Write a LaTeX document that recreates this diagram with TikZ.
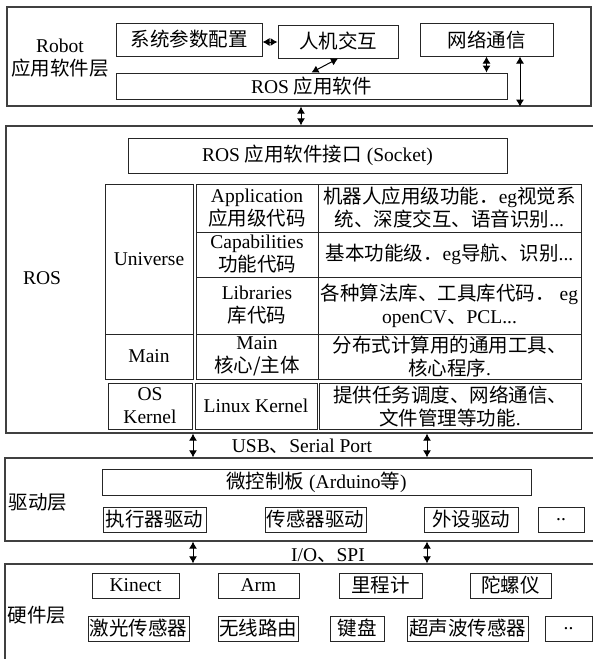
\documentclass[tikz,border=0pt]{standalone}
\usepackage{fontspec}
\setmainfont{Liberation Serif}
\newfontfamily\cjk{Noto Sans CJK SC}
\usetikzlibrary{arrows.meta}
\begin{document}
\begin{tikzpicture}[x=1pt,y=-1pt,
  every node/.style={font=\fontsize{19.5}{23}\selectfont, inner sep=0pt, text=black},
  frame/.style={draw=black!75, line width=1.3pt},
  box/.style={draw=black!85, line width=1pt, align=center},
  cell/.style={draw=black!85, line width=1pt, align=center},
  lbl/.style={align=center},
  dbl/.style={{Latex[length=7pt,width=8pt]}-{Latex[length=7pt,width=8pt]}, line width=1pt, draw=black},
]
\useasboundingbox (0,0) rectangle (593,659);
\clip (0,0) rectangle (593,659);
\fill[white] (0,0) rectangle (593,659);

% ---------- frames ----------
\node[frame, minimum width=584pt, minimum height=99pt] (topframe) at (299,56.5) {};
\node[frame, minimum width=614pt, minimum height=307pt] (rosframe) at (313,279.5) {};
\node[frame, minimum width=615pt, minimum height=83pt] (drvframe) at (312.5,499.5) {};
\node[frame, minimum width=615pt, minimum height=126pt] (hwframe) at (312.5,627) {};

% ---------- Robot application layer ----------
\node[lbl] (robotlbl) at (60,58.5) {Robot\\{\cjk 应用软件层}};
\node[box, minimum width=146pt, minimum height=33pt] (sys) at (189,39.5) {\cjk 系统参数配置};
\node[box, minimum width=120pt, minimum height=33pt] (hmi) at (338,41.5) {\cjk 人机交互};
\node[box, minimum width=133pt, minimum height=33pt] (net) at (486.5,39.5) {\cjk 网络通信};
\node[box, minimum width=391pt, minimum height=26pt] (rosapp) at (311.5,86) {ROS {\cjk 应用软件}};

\draw[dbl] (sys.east |- 0,42) -- (hmi.west |- 0,42);
\draw[dbl] (hmi.south) -- (rosapp.north);
\draw[dbl] (net.south) -- (net.south |- rosapp.north);
\coordinate (nr) at (520,0);
\draw[dbl] (net.south -| nr) -- (topframe.south -| nr);
\coordinate (tm) at (301,0);
\draw[dbl] (topframe.south -| tm) -- (rosframe.north -| tm);

% ---------- ROS layer ----------
\node[lbl] (roslbl) at (42,278) {ROS};
\node[box, minimum width=379pt, minimum height=35pt] (socket) at (317.5,155.5) {ROS {\cjk 应用软件接口} (Socket)};

\node[cell, minimum width=88pt, minimum height=150pt] (univ) at (149,259) {Universe};
\node[cell, minimum width=88pt, minimum height=45pt] (mainA) at (149,356.5) {Main};

\node[cell, minimum width=122pt, minimum height=48pt] (app) at (257,208) {Application\\{\cjk 应用级代码}};
\node[cell, minimum width=122pt, minimum height=45pt] (cap) at (257,254.5) {Capabilities\\{\cjk 功能代码}};
\node[cell, minimum width=122pt, minimum height=57pt] (lib) at (257,305.5) {Libraries\\{\cjk 库代码}};
\node[cell, minimum width=122pt, minimum height=45pt] (mainB) at (257,356.5) {Main\\{\cjk 核心/主体}};

\node[cell, minimum width=263pt, minimum height=48pt] (appd) at (449.5,208) {{\cjk 机器人应用级功能．}eg{\cjk 视觉系}\\{\cjk 统、深度交互、语音识别}...};
\node[cell, minimum width=263pt, minimum height=45pt] (capd) at (449.5,254.5) {{\cjk 基本功能级．}eg{\cjk 导航、识别}...};
\node[cell, minimum width=263pt, minimum height=57pt] (libd) at (449.5,305.5) {{\cjk 各种算法库、工具库代码．} eg\\openCV{\cjk 、}PCL...};
\node[cell, minimum width=263pt, minimum height=45pt] (maind) at (449.5,356.5) {{\cjk 分布式计算用的通用工具、}\\{\cjk 核心程序}.};

\node[cell, minimum width=84pt, minimum height=46pt] (oskernel) at (150,406) {OS\\Kernel};
\node[cell, minimum width=122pt, minimum height=46pt] (linux) at (256,406) {Linux Kernel};
\node[cell, minimum width=262pt, minimum height=46pt] (osdesc) at (450,406) {{\cjk 提供任务调度、网络通信、}\\{\cjk 文件管理等功能}.};

% ---------- USB arrows ----------
\coordinate (ua) at (193,0);
\coordinate (ub) at (427,0);
\draw[dbl] (rosframe.south -| ua) -- (drvframe.north -| ua);
\draw[dbl] (rosframe.south -| ub) -- (drvframe.north -| ub);
\node[lbl] (usb) at (302,446) {USB{\cjk 、}Serial Port};

% ---------- driver layer ----------
\node[lbl] (drvlbl) at (38,502) {\cjk 驱动层};
\node[box, minimum width=429pt, minimum height=26pt] (mcu) at (316.5,482) {{\cjk 微控制板} (Arduino{\cjk 等})};
\node[box, minimum width=103pt, minimum height=25pt] (act) at (154.5,519.5) {\cjk 执行器驱动};
\node[box, minimum width=101pt, minimum height=25pt] (sen) at (315.5,519.5) {\cjk 传感器驱动};
\node[box, minimum width=94pt, minimum height=25pt] (per) at (471,519.5) {\cjk 外设驱动};
\node[box, minimum width=46pt, minimum height=25pt] (dmore) at (561,519.5) {..};

% ---------- I/O arrows ----------
\draw[dbl] (drvframe.south -| ua) -- (hwframe.north -| ua);
\draw[dbl] (drvframe.south -| ub) -- (hwframe.north -| ub);
\node[lbl] (io) at (328,556) {I/O{\cjk 、}SPI};

% ---------- hardware layer ----------
\node[lbl] (hwlbl) at (37,615) {\cjk 硬件层};
\node[box, minimum width=87pt, minimum height=25pt] (kinect) at (135.5,585.5) {Kinect};
\node[box, minimum width=81pt, minimum height=25pt] (arm) at (258.5,585.5) {Arm};
\node[box, minimum width=83pt, minimum height=25pt] (odo) at (380.5,585.5) {\cjk 里程计};
\node[box, minimum width=81pt, minimum height=25pt] (gyro) at (510.5,585.5) {\cjk 陀螺仪};

\node[box, minimum width=101pt, minimum height=25pt] (laser) at (138.5,628.5) {\cjk 激光传感器};
\node[box, minimum width=80pt, minimum height=25pt] (wifi) at (258,628.5) {\cjk 无线路由};
\node[box, minimum width=54pt, minimum height=25pt] (kbd) at (357,628.5) {\cjk 键盘};
\node[box, minimum width=121pt, minimum height=25pt] (sonar) at (467.5,628.5) {\cjk 超声波传感器};
\node[box, minimum width=47pt, minimum height=25pt] (hmore) at (568.5,628.5) {..};
\end{tikzpicture}
\end{document}
